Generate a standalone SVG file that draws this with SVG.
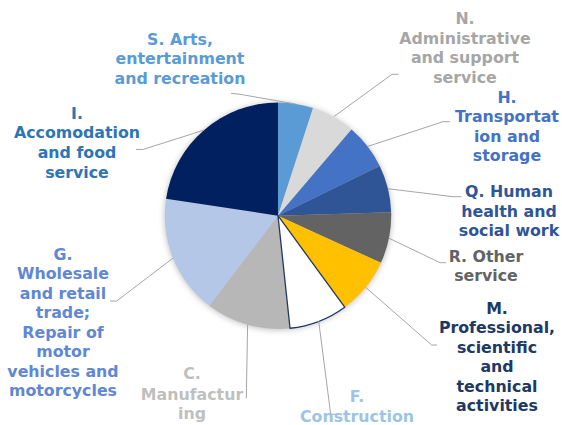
<svg xmlns="http://www.w3.org/2000/svg" width="562" height="425" viewBox="0 0 562 425">
<defs>
<filter id="sh" x="-20%" y="-20%" width="140%" height="140%"><feGaussianBlur stdDeviation="3"/></filter>
</defs>
<style>
text{font-family:"DejaVu Sans",Verdana,sans-serif;font-weight:bold;font-size:15.8px;text-anchor:middle}
.ld{fill:none;stroke:#A6A6A6;stroke-width:1}
</style>
<rect width="562" height="425" fill="#fff"/>
<circle cx="278" cy="216.5" r="113.5" fill="#000" opacity="0.25" filter="url(#sh)"/>
<g id="pie">
<path id="slice-S" d="M278,215.7 L278,102.5 A113.2,113.2 0 0 1 313.08,108.07 Z" fill="#5B9BD5"/>
<path id="slice-N" d="M278,215.7 L313.08,108.07 A113.2,113.2 0 0 1 351.51,129.62 Z" fill="#D9D9D9"/>
<path id="slice-H" d="M278,215.7 L351.51,129.62 A113.2,113.2 0 0 1 379.74,166.07 Z" fill="#4472C4"/>
<path id="slice-Q" d="M278,215.7 L379.74,166.07 A113.2,113.2 0 0 1 391.15,212.34 Z" fill="#2F5597"/>
<path id="slice-R" d="M278,215.7 L391.15,212.34 A113.2,113.2 0 0 1 380.92,262.83 Z" fill="#636363"/>
<path id="slice-M" d="M278,215.7 L380.92,262.83 A113.2,113.2 0 0 1 344.70,307.17 Z" fill="#FFC000"/>
<path id="slice-C" d="M278,215.7 L290.03,328.25 A113.2,113.2 0 0 1 209.40,305.75 Z" fill="#B7B7B7"/>
<path id="slice-G" d="M278,215.7 L209.40,305.75 A113.2,113.2 0 0 1 166.07,198.78 Z" fill="#B4C7E7"/>
<path id="slice-I" d="M278,215.7 L166.07,198.78 A113.2,113.2 0 0 1 278,102.5 Z" fill="#002060"/>
<path id="slice-F" d="M278,215.7 L344.70,307.17 A113.2,113.2 0 0 1 290.03,328.25 Z" fill="#fff" stroke="#1F3864" stroke-width="1.3" stroke-linejoin="round"/>
</g>
<g id="connectors">
<polyline class="ld" points="231,93.3 240,94.3 295.7,104"/>
<polyline class="ld" points="334,116.5 392,74.3 398.5,74.3"/>
<polyline class="ld" points="367.4,146.5 443,121.7 450,121.7"/>
<polyline class="ld" points="387.7,188.7 453,196.7 461.5,196.7"/>
<polyline class="ld" points="388.8,238.1 440,262.7 446,262.7"/>
<polyline class="ld" points="365.5,287.2 431.7,345 437,345"/>
<polyline class="ld" points="318.7,321.1 330.7,414.3 338,414.3"/>
<polyline class="ld" points="247.6,324.5 246.3,398.3"/>
<polyline class="ld" points="110,301 116.7,301 173.2,258"/>
<polyline class="ld" points="136,149.4 143.3,149.4 204.3,130"/>
</g>
<g id="label-S" fill="#5B9BD5"><text x="180" y="44.5">S. Arts,</text><text x="180" y="64">entertainment</text><text x="180" y="83.5">and recreation</text></g>
<g id="label-N" fill="#A6A6A6"><text x="465" y="23.5">N.</text><text x="465" y="43.5">Administrative</text><text x="465" y="63">and support</text><text x="465" y="82.5">service</text></g>
<g id="label-H" fill="#4472C4"><text x="507" y="102.5">H.</text><text x="507" y="122">Transportat</text><text x="507" y="141.5">ion and</text><text x="507" y="161">storage</text></g>
<g id="label-Q" fill="#2F5597"><text x="509" y="197">Q. Human</text><text x="509" y="216.5">health and</text><text x="509" y="236">social work</text></g>
<g id="label-R" fill="#636363"><text x="486" y="261.5">R. Other</text><text x="486" y="281">service</text></g>
<g id="label-M" fill="#203864"><text x="497" y="313.5">M.</text><text x="497" y="333">Professional,</text><text x="497" y="352.5">scientific</text><text x="497" y="372">and</text><text x="497" y="391.5">technical</text><text x="497" y="411">activities</text></g>
<g id="label-F" fill="#9DC3E6"><text x="357" y="402">F.</text><text x="357" y="421.5">Construction</text></g>
<g id="label-C" fill="#BFBFBF"><text x="192" y="379">C.</text><text x="192" y="399.5">Manufactur</text><text x="192" y="418.5">ing</text></g>
<g id="label-G" fill="#5F87D4"><text x="63" y="260">G.</text><text x="63" y="279">Wholesale</text><text x="63" y="298.5">and retail</text><text x="63" y="318">trade;</text><text x="63" y="337.5">Repair of</text><text x="63" y="357">motor</text><text x="63" y="376.5">vehicles and</text><text x="63" y="396">motorcycles</text></g>
<g id="label-I" fill="#2E75B6"><text x="77" y="118.5">I.</text><text x="77" y="138.2">Accomodation</text><text x="77" y="157.9">and food</text><text x="77" y="177.6">service</text></g>
</svg>
